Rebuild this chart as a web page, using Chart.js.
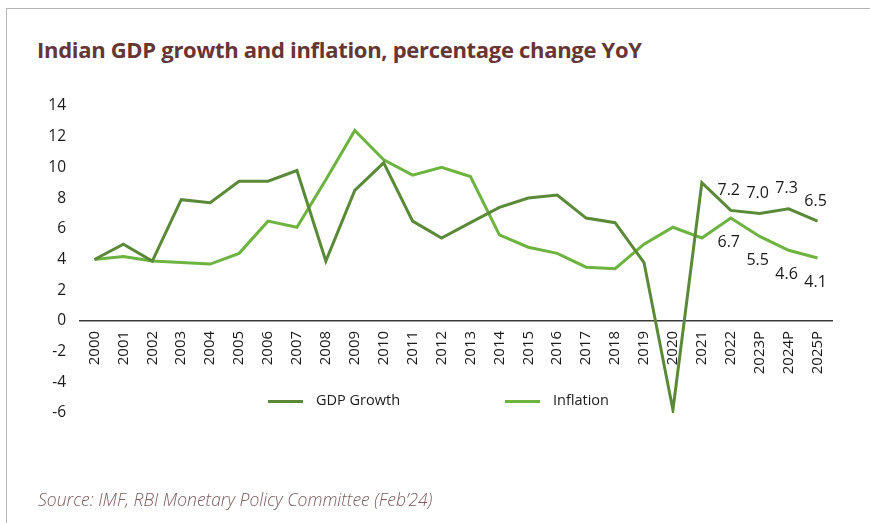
<!DOCTYPE html>
<html>
<head>
<meta charset="utf-8">
<script src="https://cdn.jsdelivr.net/npm/chart.js@4.4.1/dist/chart.umd.min.js"></script>
<style>
  html, body { margin: 0; padding: 0; background: #fff; }
  #wrap { position: relative; width: 870px; height: 523px; overflow: hidden; font-family: 'Open Sans', sans-serif; }
  #frame { position: absolute; left: 6px; top: 8px; width: 900px; height: 600px; border-left: 1.5px solid #b5b5b5; border-top: 1.5px solid #b5b5b5; }
  #title { position: absolute; left: 37px; top: 34px; font-size: 22px; font-weight: 700; color: #663535; letter-spacing: -0.3px; white-space: nowrap; }
  #source { position: absolute; left: 38px; top: 487px; font-size: 17.5px; font-style: italic; font-weight: 300; color: #7d5b5b; white-space: nowrap; }
  .leg { position: absolute; top: 390px; font-size: 14.5px; color: #1a1a1a; white-space: nowrap; }
  .leg span { display: inline-block; width: 35px; height: 3px; vertical-align: middle; margin-right: 13px; }
  #chart { position: absolute; left: 0; top: 0; }
</style>
</head>
<body>
<div id="wrap">
  <div id="frame"></div>
  <div id="title">Indian GDP growth and inflation, percentage change YoY</div>
  <canvas id="chart" width="870" height="523"></canvas>
  <div class="leg" style="left:268px"><span style="background:#5a8a38"></span>GDP Growth</div>
  <div class="leg" style="left:505px"><span style="background:#6db33f"></span>Inflation</div>
  <div id="source">Source: IMF, RBI Monetary Policy Committee (Feb’24)</div>
</div>
<script>
// years on the x axis
var years = ['2000', '2001', '2002', '2003', '2004', '2005', '2006', '2007', '2008', '2009',
  '2010', '2011', '2012', '2013', '2014', '2015', '2016', '2017', '2018', '2019',
  '2020', '2021', '2022', '2023P', '2024P', '2025P'];

// GDP growth, % YoY
var gdpGrowth = [4.0, 5.0, 3.9, 7.9, 7.7, 9.1, 9.1, 9.8, 3.9, 8.5,
  10.3, 6.5, 5.4, 6.4, 7.4, 8.0, 8.2, 6.7, 6.4, 3.8,
  -5.8, 9.0, 7.2, 7.0, 7.3, 6.5];

// CPI inflation, % YoY
var inflation = [4.0, 4.2, 3.9, 3.8, 3.7, 4.4, 6.5, 6.1, 9.2, 12.4,
  10.5, 9.5, 10.0, 9.4, 5.6, 4.8, 4.4, 3.5, 3.4, 5.0,
  6.1, 5.4, 6.7, 5.5, 4.6, 4.1];

// only the last four years carry value labels
var labelFrom = 22;

var yTicks = [-6, -4, -2, 0, 2, 4, 6, 8, 10, 12, 14];

// value labels: GDP above the line, inflation below
var valueLabels = {
  id: 'valueLabels',
  afterDatasetsDraw: function(chart) {
    var ctx = chart.ctx;
    ctx.save();
    ctx.font = '16px "Open Sans"';
    ctx.fillStyle = '#1a1a1a';
    ctx.textAlign = 'center';
    ctx.textBaseline = 'middle';
    chart.data.datasets.forEach(function(ds, i) {
      var meta = chart.getDatasetMeta(i);
      meta.data.forEach(function(pt, j) {
        if (j < labelFrom) return;
        var dy = i === 0 ? -20 : 24;
        ctx.fillText(ds.data[j].toFixed(1), pt.x - 2, pt.y + dy);
      });
    });
    ctx.restore();
  }
};

var ctx = document.getElementById('chart').getContext('2d');

var myChart = new Chart(ctx, {
  type: 'line',
  data: {
    labels: years,
    datasets: [{
      label: 'GDP Growth',
      data: gdpGrowth,
      borderColor: '#5a8a38',
      borderWidth: 3,
      pointRadius: 0,
      tension: 0
    }, {
      label: 'Inflation',
      data: inflation,
      borderColor: '#6db33f',
      borderWidth: 3,
      pointRadius: 0,
      tension: 0
    }]
  },
  options: {
    responsive: false,
    animation: false,
    layout: {
      padding: { left: 0, right: 38, top: 106, bottom: 110 }
    },
    plugins: {
      legend: { display: false },
      tooltip: { enabled: false }
    },
    scales: {
      x: {
        position: { y: 0 },
        offset: true,
        grid: { display: false, drawTicks: false },
        border: { display: true, color: '#3a3a3a', width: 1.5 },
        ticks: {
          color: '#1a1a1a',
          font: { family: 'Open Sans', size: 15 },
          minRotation: 90,
          maxRotation: 90,
          autoSkip: false,
          padding: 10
        }
      },
      y: {
        min: -6,
        max: 14,
        afterFit: function(scale) { scale.width = 80; },
        afterBuildTicks: function(scale) {
          scale.ticks = yTicks.map(function(v) { return { value: v }; });
        },
        grid: { display: false, drawTicks: false },
        border: { display: false },
        ticks: {
          color: '#1a1a1a',
          font: { family: 'Open Sans', size: 15.5 },
          padding: 14
        }
      }
    }
  },
  plugins: [valueLabels]
});
</script>
</body>
</html>
